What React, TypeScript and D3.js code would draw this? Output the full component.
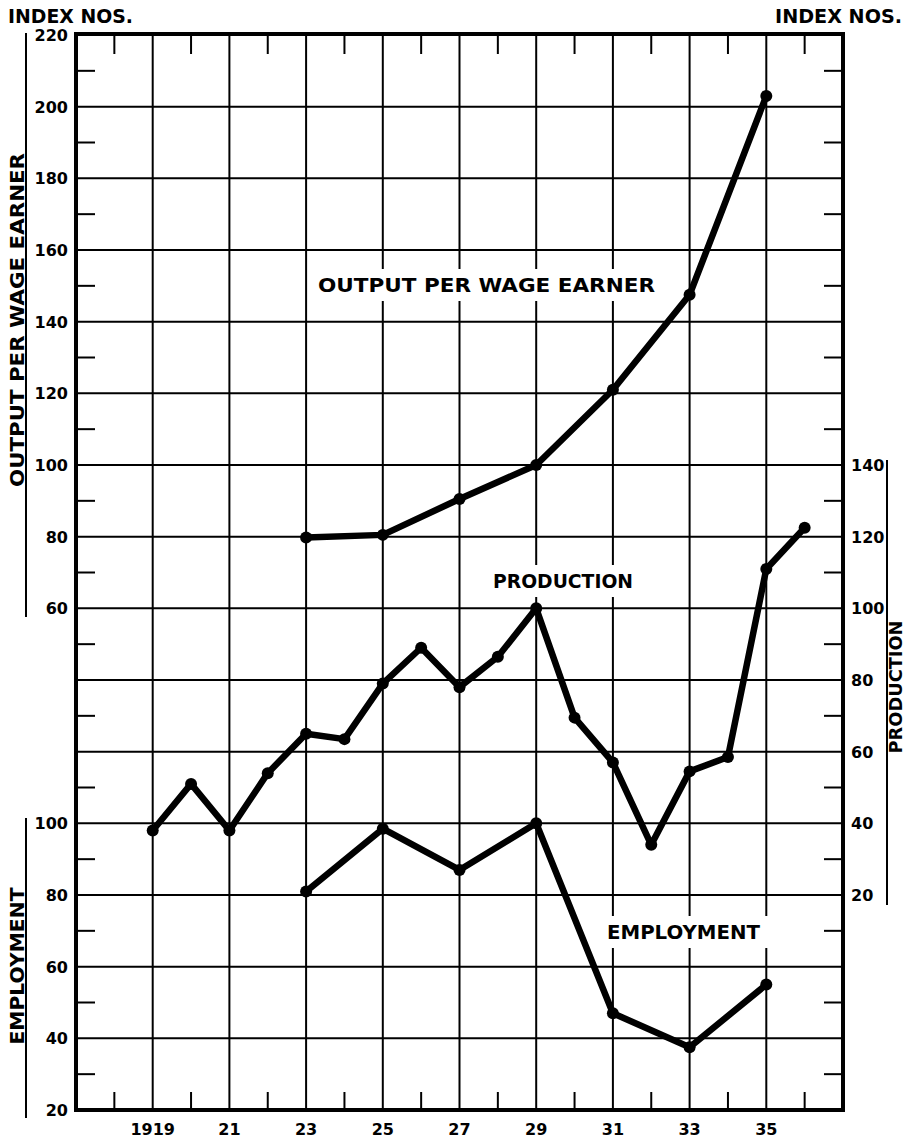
import React from "react";
import * as d3 from "d3";

const productionYears = [1919, 1920, 1921, 1922, 1923, 1924, 1925, 1926, 1927, 1928, 1929, 1930, 1931, 1932, 1933, 1934, 1935, 1936];
const productionValues = [38, 51, 38, 54, 65, 63.5, 79, 89, 78, 86.5, 100, 69.5, 57, 34, 54.5, 58.5, 111, 122.5];

const outputYears = [1923, 1925, 1927, 1929, 1931, 1933, 1935];
const outputValues = [79.8, 80.5, 90.5, 100, 121, 147.5, 203];

const employmentYears = [1923, 1925, 1927, 1929, 1931, 1933, 1935];
const employmentValues = [81, 98.5, 87, 100, 47, 37.5, 55];

const outputTicks = [220, 200, 180, 160, 140, 120, 100, 80, 60];
const employmentTicks = [100, 80, 60, 40, 20];
const productionTicks = [140, 120, 100, 80, 60, 40, 20];
const yearTicks = [1919, 1921, 1923, 1925, 1927, 1929, 1931, 1933, 1935];
const yearTickLabels = ["1919", "21", "23", "25", "27", "29", "31", "33", "35"];

const W = 910;
const H = 1140;
const FONT = "'DejaVu Sans', Verdana, sans-serif";

export default function App() {
  const left = 76;
  const right = 843;
  const top = 35;
  const bottom = 1110;

  const x = d3.scaleLinear().domain([1917, 1937]).range([left, right]);
  const row = d3.scaleLinear().domain([0, 15]).range([top, bottom]);
  const yOut = d3.scaleLinear().domain([220, 60]).range([row(0), row(8)]);
  const yProd = d3.scaleLinear().domain([140, 20]).range([row(6), row(12)]);
  const yEmp = d3.scaleLinear().domain([100, 20]).range([row(11), row(15)]);

  const rows = d3.range(1, 15);
  const halfRows = d3.range(0, 15).map((r) => r + 0.5);
  const evenYears = d3.range(1918, 1937, 2);

  const line = (xs: number[], vs: number[], ys: d3.ScaleLinear<number, number>) =>
    d3.line<number>()
      .x((_, i) => x(xs[i]))
      .y((v) => ys(v))(vs) as string;

  const series = [
    { xs: outputYears, vs: outputValues, ys: yOut },
    { xs: productionYears, vs: productionValues, ys: yProd },
    { xs: employmentYears, vs: employmentValues, ys: yEmp },
  ];

  const labels = [
    { text: "OUTPUT PER WAGE EARNER", x: 318, y: 285, w: 337 },
    { text: "PRODUCTION", x: 493, y: 581, w: 140 },
    { text: "EMPLOYMENT", x: 607, y: 932, w: 153 },
  ];

  return (
    <svg width={W} height={H} style={{ position: "absolute", left: 0, top: 0, background: "#fff" }}>
      <rect x={0} y={0} width={W} height={H} fill="#fff" />
      {/* grid */}
      {rows.map((r) => (
        <line key={"h" + r} x1={left} x2={right} y1={row(r)} y2={row(r)} stroke="#000" strokeWidth={2} />
      ))}
      {yearTicks.map((yr) => (
        <line key={"v" + yr} x1={x(yr)} x2={x(yr)} y1={top} y2={bottom} stroke="#000" strokeWidth={2} />
      ))}
      {/* minor ticks */}
      {halfRows.map((r) => (
        <g key={"mt" + r}>
          <line x1={left} x2={left + 19} y1={row(r)} y2={row(r)} stroke="#000" strokeWidth={2} />
          <line x1={right - 19} x2={right} y1={row(r)} y2={row(r)} stroke="#000" strokeWidth={2} />
        </g>
      ))}
      {evenYears.map((yr) => (
        <g key={"yt" + yr}>
          <line x1={x(yr)} x2={x(yr)} y1={top} y2={top + 19} stroke="#000" strokeWidth={2} />
          <line x1={x(yr)} x2={x(yr)} y1={bottom - 18} y2={bottom} stroke="#000" strokeWidth={2} />
        </g>
      ))}
      {/* series labels with white background */}
      {labels.map((l) => (
        <g key={l.text}>
          <rect x={l.x - 8} y={l.y - 16} width={l.w + 16} height={32} fill="#fff" />
          <text x={l.x} y={l.y + 7} fontFamily={FONT} fontWeight="bold" fontSize={19}
            textLength={l.w} lengthAdjust="spacingAndGlyphs">{l.text}</text>
        </g>
      ))}
      {/* frame */}
      <rect x={left} y={top - 1} width={right - left} height={bottom - top + 1} fill="none" stroke="#000" strokeWidth={4} />
      {/* series */}
      {series.map((s, i) => (
        <g key={"s" + i}>
          <path d={line(s.xs, s.vs, s.ys)} fill="none" stroke="#000" strokeWidth={6.5} strokeLinejoin="round" strokeLinecap="round" />
          {s.vs.map((v, j) => (
            <circle key={j} cx={x(s.xs[j])} cy={s.ys(v)} r={6} fill="#000" />
          ))}
        </g>
      ))}
      {/* left axis: output */}
      <line x1={26} x2={26} y1={33} y2={617} stroke="#000" strokeWidth={2} />
      {outputTicks.map((t) => (
        <text key={"o" + t} x={68} y={yOut(t) + 6} textAnchor="end" fontFamily={FONT} fontWeight="bold" fontSize={16}>{t}</text>
      ))}
      <text transform={`translate(24,${320}) rotate(-90)`} textAnchor="middle" fontFamily={FONT} fontWeight="bold" fontSize={19}
        textLength={334} lengthAdjust="spacingAndGlyphs">OUTPUT PER WAGE EARNER</text>
      {/* left axis: employment */}
      <line x1={26} x2={26} y1={818} y2={1118} stroke="#000" strokeWidth={2} />
      {employmentTicks.map((t) => (
        <text key={"e" + t} x={68} y={yEmp(t) + 6} textAnchor="end" fontFamily={FONT} fontWeight="bold" fontSize={16}>{t}</text>
      ))}
      <text transform={`translate(24,${966}) rotate(-90)`} textAnchor="middle" fontFamily={FONT} fontWeight="bold" fontSize={19}
        textLength={157} lengthAdjust="spacingAndGlyphs">EMPLOYMENT</text>
      {/* right axis: production */}
      <line x1={887} x2={887} y1={460} y2={905} stroke="#000" strokeWidth={2} />
      {productionTicks.map((t) => (
        <text key={"p" + t} x={851} y={yProd(t) + 6} textAnchor="start" fontFamily={FONT} fontWeight="bold" fontSize={16}>{t}</text>
      ))}
      <text transform={`translate(902,${687}) rotate(-90)`} textAnchor="middle" fontFamily={FONT} fontWeight="bold" fontSize={17}
        textLength={133} lengthAdjust="spacingAndGlyphs">PRODUCTION</text>
      {/* bottom year labels */}
      {yearTicks.map((yr, i) => (
        <text key={"yl" + yr} x={x(yr)} y={1135} textAnchor="middle" fontFamily={FONT} fontWeight="bold" fontSize={16}>{yearTickLabels[i]}</text>
      ))}
      {/* header */}
      <text x={8} y={23} fontFamily={FONT} fontWeight="bold" fontSize={19} textLength={125} lengthAdjust="spacingAndGlyphs">INDEX NOS.</text>
      <text x={902} y={23} textAnchor="end" fontFamily={FONT} fontWeight="bold" fontSize={19} textLength={127} lengthAdjust="spacingAndGlyphs">INDEX NOS.</text>
    </svg>
  );
}
